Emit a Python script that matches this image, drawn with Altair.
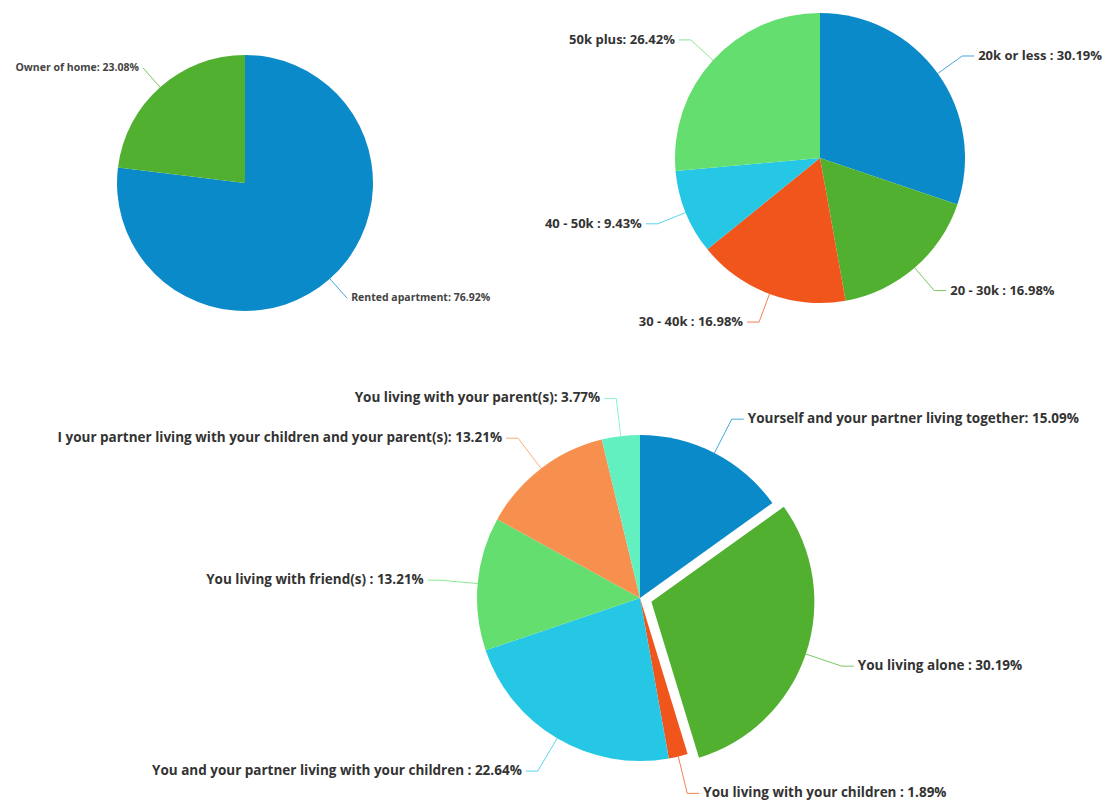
import altair as alt
import pandas as pd

# ---------------- data ----------------
housing_names = ["Rented apartment", "Owner of home"]
housing_values = [76.92, 23.08]
housing_seps = [": ", ": "]

income_names = ["20k or less", "20 - 30k", "30 - 40k", "40 - 50k", "50k plus"]
income_values = [30.19, 16.98, 16.98, 9.43, 26.42]
income_seps = [" : ", " : ", " : ", " : ", ": "]

living_names = [
    "Yourself and your partner living together",
    "You living alone",
    "You living with your children",
    "You and your partner living with your children",
    "You living with friend(s)",
    "I your partner living with your children and your parent(s)",
    "You living with your parent(s)",
]
living_values = [15.09, 30.19, 1.89, 22.64, 13.21, 13.21, 3.77]
living_seps = [": ", " : ", " : ", " : ", " : ", ": ", ": "]

# ---------------- styles ----------------
BLUE = "#0b8ac9"
GREEN = "#52b031"
RED = "#f0561b"
CYAN = "#25c7e5"
LGREEN = "#64df6f"
ORANGE = "#f7904f"
AQUA = "#63f0c1"

housing_colors = [BLUE, GREEN]
income_colors = [BLUE, GREEN, RED, CYAN, LGREEN]
living_colors = [BLUE, GREEN, RED, CYAN, LGREEN, ORANGE, AQUA]

FONT = "Open Sans"


def pie_layers(names, values, seps, colors, cx, cy, r, d, h, gap, fs,
               text_color="#333333", exploded=None, explode_px=0):
    df = pd.DataFrame({
        "name": names,
        "value": values,
        "sep": seps,
        "color": colors,
        "order": list(range(len(names))),
    })
    df["label"] = df["name"] + df["sep"] + df["value"].map(lambda v: f"{v:.2f}%")
    df["ex"] = [explode_px if n == exploded else 0 for n in names]

    base = (
        alt.Chart(df)
        .transform_joinaggregate(total="sum(value)")
        .transform_window(cum="sum(value)", sort=[alt.SortField("order")])
        .transform_calculate(
            a0="2*PI*(datum.cum - datum.value)/datum.total",
            a1="2*PI*datum.cum/datum.total",
        )
        .transform_calculate(mid="(datum.a0 + datum.a1)/2")
        .transform_calculate(s="sin(datum.mid)", c="cos(datum.mid)")
        .transform_calculate(
            px=f"{cx} + datum.ex*datum.s",
            py=f"{cy} - datum.ex*datum.c",
            ex0=f"{cx} + (datum.ex + {r})*datum.s",
            ey0=f"{cy} - (datum.ex + {r})*datum.c",
            ex1=f"{cx} + (datum.ex + {r + d})*datum.s",
            ey1=f"{cy} - (datum.ex + {r + d})*datum.c",
        )
        .transform_calculate(ex2=f"datum.ex1 + (datum.s >= 0 ? {h} : -{h})")
    )
    col = alt.Color("color:N", scale=None, legend=None)
    arcs = base.mark_arc(radius=r).encode(
        x=alt.X("px:Q", scale=None, axis=None),
        y=alt.Y("py:Q", scale=None, axis=None),
        theta=alt.Theta("a0:Q", scale=None),
        theta2="a1:Q",
        color=col,
    )
    lead1 = base.mark_rule(strokeWidth=1, opacity=0.75).encode(
        x=alt.X("ex0:Q", scale=None, axis=None),
        y=alt.Y("ey0:Q", scale=None, axis=None),
        x2="ex1:Q", y2="ey1:Q", color=col,
    )
    lead2 = base.mark_rule(strokeWidth=1, opacity=0.75).encode(
        x=alt.X("ex1:Q", scale=None, axis=None),
        y=alt.Y("ey1:Q", scale=None, axis=None),
        x2="ex2:Q", y2="ey1:Q", color=col,
    )
    txt_r = base.transform_filter("datum.s >= 0").mark_text(
        align="left", baseline="middle", dx=gap, fontSize=fs,
        fontWeight="bold", font=FONT, color=text_color,
    ).encode(
        x=alt.X("ex2:Q", scale=None, axis=None),
        y=alt.Y("ey1:Q", scale=None, axis=None),
        text="label:N",
    )
    txt_l = base.transform_filter("datum.s < 0").mark_text(
        align="right", baseline="middle", dx=-gap, fontSize=fs,
        fontWeight="bold", font=FONT, color=text_color,
    ).encode(
        x=alt.X("ex2:Q", scale=None, axis=None),
        y=alt.Y("ey1:Q", scale=None, axis=None),
        text="label:N",
    )
    return [arcs, lead1, lead2, txt_r, txt_l]


layers = []
layers += pie_layers(housing_names, housing_values, housing_seps, housing_colors,
                     cx=237, cy=175, r=128, d=26, h=0, gap=4, fs=10.5,
                     text_color="#444444")
layers += pie_layers(income_names, income_values, income_seps, income_colors,
                     cx=812, cy=150, r=145, d=30, h=12, gap=4, fs=13)
layers += pie_layers(living_names, living_values, living_seps, living_colors,
                     cx=632, cy=590, r=163, d=38, h=12, gap=4, fs=13.5,
                     exploded="You living alone", explode_px=12)

chart = (
    alt.layer(*layers)
    .properties(width=1102, height=796, autosize="none", padding=0)
    .configure_view(stroke=None)
)

chart.save("out.html", embed_options={"renderer": "svg", "actions": False})
